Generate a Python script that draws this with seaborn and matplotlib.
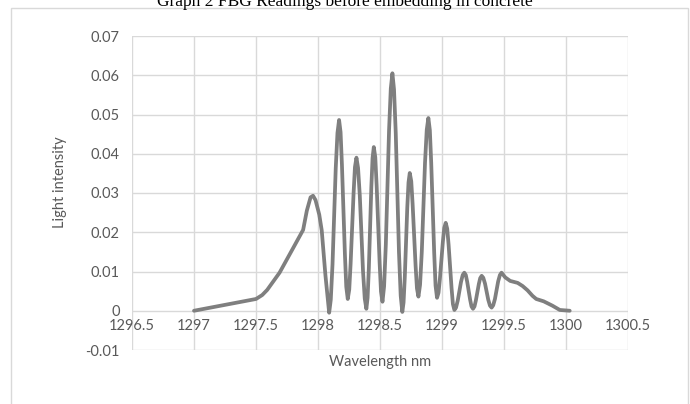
import matplotlib
matplotlib.use("Agg")
import matplotlib.pyplot as plt
import seaborn as sns
import pandas as pd
from matplotlib.patches import Rectangle

# Data (peaks, troughs and flank readings)
wavelength = [1297.00, 1297.50, 1297.55, 1297.59, 1297.64, 1297.69, 1297.80, 1297.88,
              1297.91, 1297.94, 1297.96, 1297.98, 1298.01, 1298.03, 1298.06, 1298.09,
              1298.103, 1298.117, 1298.143, 1298.157, 1298.17,
              1298.182, 1298.193, 1298.217, 1298.228, 1298.24,
              1298.252, 1298.263, 1298.287, 1298.298, 1298.31,
              1298.323, 1298.337, 1298.363, 1298.377, 1298.39,
              1298.40, 1298.41, 1298.43, 1298.44, 1298.45,
              1298.462, 1298.473, 1298.497, 1298.508, 1298.52,
              1298.533, 1298.547, 1298.573, 1298.587, 1298.60,
              1298.613, 1298.627, 1298.653, 1298.667, 1298.68,
              1298.69, 1298.70, 1298.72, 1298.73, 1298.74,
              1298.752, 1298.763, 1298.787, 1298.798, 1298.81,
              1298.823, 1298.837, 1298.863, 1298.877, 1298.89,
              1298.902, 1298.913, 1298.937, 1298.948, 1298.96,
              1298.972, 1298.983, 1299.007, 1299.018, 1299.03,
              1299.042, 1299.053, 1299.077, 1299.088, 1299.10,
              1299.113, 1299.127, 1299.153, 1299.167, 1299.18,
              1299.192, 1299.203, 1299.227, 1299.238, 1299.25,
              1299.262, 1299.273, 1299.297, 1299.308, 1299.32,
              1299.333, 1299.347, 1299.373, 1299.387, 1299.40,
              1299.413, 1299.427, 1299.453, 1299.467, 1299.48,
              1299.51, 1299.55, 1299.61, 1299.65, 1299.69, 1299.73, 1299.76,
              1299.82, 1299.89, 1299.95, 1300.03]
intensity = [0.0000, 0.0030, 0.0040, 0.0053, 0.0075, 0.0097, 0.0160, 0.0206,
             0.0255, 0.0289, 0.0293, 0.0282, 0.0245, 0.0205, 0.0090, -0.0005,
             0.0028, 0.0118, 0.0363, 0.0453, 0.0486,
             0.0455, 0.0372, 0.0144, 0.0061, 0.0030,
             0.0054, 0.0120, 0.0300, 0.0366, 0.0390,
             0.0364, 0.0294, 0.0101, 0.0031, 0.0005,
             0.0033, 0.0108, 0.0314, 0.0389, 0.0417,
             0.0391, 0.0319, 0.0122, 0.0049, 0.0023,
             0.0062, 0.0169, 0.0460, 0.0566, 0.0605,
             0.0564, 0.0453, 0.0149, 0.0038, -0.0003,
             0.0021, 0.0086, 0.0263, 0.0327, 0.0351,
             0.0330, 0.0272, 0.0115, 0.0057, 0.0036,
             0.0066, 0.0150, 0.0377, 0.0461, 0.0491,
             0.0460, 0.0377, 0.0148, 0.0064, 0.0033,
             0.0046, 0.0081, 0.0176, 0.0211, 0.0224,
             0.0209, 0.0169, 0.0058, 0.0017, 0.0002,
             0.0008, 0.0026, 0.0073, 0.0091, 0.0097,
             0.0091, 0.0074, 0.0028, 0.0011, 0.0005,
             0.0011, 0.0026, 0.0068, 0.0083, 0.0089,
             0.0084, 0.0069, 0.0028, 0.0013, 0.0008,
             0.0014, 0.0030, 0.0075, 0.0091, 0.0097,
             0.0085, 0.0076, 0.0071, 0.0063, 0.0052, 0.0038, 0.0030,
             0.0024, 0.0013, 0.0002, 0.0000]
x_ticks = [1296.5, 1297, 1297.5, 1298, 1298.5, 1299, 1299.5, 1300, 1300.5]
x_tick_labels = ["1296.5", "1297", "1297.5", "1298", "1298.5", "1299", "1299.5", "1300", "1300.5"]
y_ticks = [-0.01, 0, 0.01, 0.02, 0.03, 0.04, 0.05, 0.06, 0.07]
y_tick_labels = ["-0.01", "0", "0.01", "0.02", "0.03", "0.04", "0.05", "0.06", "0.07"]

title = "Graph 2 FBG Readings before embedding in concrete"
x_title = "Wavelength nm"
y_title = "Light intensity"

df = pd.DataFrame({"wavelength": wavelength, "intensity": intensity})

sns.set_theme(style="white")
plt.rcParams["font.family"] = ["Lato", "DejaVu Sans"]

fig = plt.figure(figsize=(6.9, 4.04), dpi=100)
ax = fig.add_axes([132 / 690, 1 - 350 / 404, (628 - 132) / 690, (350 - 36) / 404])

grid_c = "#d9d9d9"
for xv in x_ticks:
    ax.axvline(xv, color=grid_c, lw=1.0, zorder=0)
for yv in y_ticks:
    ax.axhline(yv, color=grid_c, lw=1.0, zorder=0)

sns.lineplot(data=df, x="wavelength", y="intensity", ax=ax, color="#7f7f7f",
             linewidth=2.7, solid_joinstyle="round", solid_capstyle="round",
             sort=False, zorder=3)

ax.set_xlim(1296.5, 1300.5)
ax.set_ylim(-0.01, 0.07)
for s in ax.spines.values():
    s.set_visible(False)

ax.set_yticks(y_ticks)
ax.set_yticklabels(y_tick_labels)
ax.set_xticks([])
ax.tick_params(axis="y", length=0, pad=9, labelsize=10.5, labelcolor="#595959")

# x tick labels sit on the horizontal axis crossing at y = 0
for xv, lab in zip(x_ticks, x_tick_labels):
    ax.annotate(lab, xy=(xv, 0), xycoords="data", xytext=(0, -6),
                textcoords="offset points", ha="center", va="top",
                fontsize=10.5, color="#595959")

ax.set_xlabel("")
ax.set_ylabel("")
fig.text(60 / 690, 1 - 182 / 404, y_title, rotation=90, ha="center", va="center",
         fontsize=10.5, color="#595959")
fig.text(380 / 690, 1 - 362 / 404, x_title, ha="center", va="center",
         fontsize=10.5, color="#595959")

fig.text(345 / 690, 1 - 6 / 404, title, ha="center", va="baseline",
         fontsize=12.5, color="black", family=["Liberation Serif", "DejaVu Serif"])

fig.add_artist(Rectangle((11 / 690, -0.05), (688 - 11) / 690, 1 - 8 / 404 + 0.05,
                         transform=fig.transFigure, fill=False,
                         edgecolor=grid_c, linewidth=1.0))

fig.savefig("out.png", dpi=100)
